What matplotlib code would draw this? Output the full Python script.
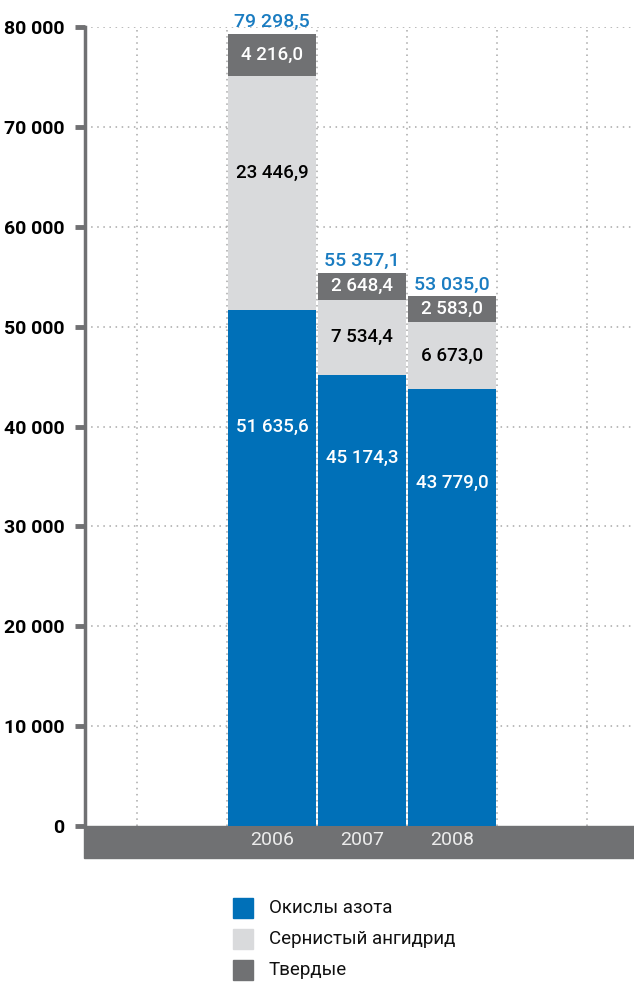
import matplotlib
matplotlib.use("Agg")
import matplotlib.pyplot as plt
from matplotlib.patches import Rectangle

plt.rcParams['font.family'] = ['Roboto', 'DejaVu Sans']

# data
years = ['2006', '2007', '2008']
nox = [51635.6, 45174.3, 43779.0]       # Окислы азота
so2 = [23446.9, 7534.4, 6673.0]         # Сернистый ангидрид
solids = [4216.0, 2648.4, 2583.0]       # Твердые
totals = [79298.5, 55357.1, 53035.0]
series_names = ['Окислы азота', 'Сернистый ангидрид', 'Твердые']
yticks = [0, 10000, 20000, 30000, 40000, 50000, 60000, 70000, 80000]

colors = ['#0070b8', '#d9dadc', '#707173']
label_colors = ['white', 'black', 'white']
total_color = '#1a7cc1'


def fmt(v, dec=1):
    s = f"{v:,.{dec}f}"
    return s.replace(',', ' ').replace('.', ',')


W, H = 634, 983
fig = plt.figure(figsize=(W / 100, H / 100), dpi=100)
ax = fig.add_axes([85 / W, (H - 826) / H, 549 / W, 799 / H])

xpos = [2, 3, 4]
bar_w = 0.97

# grid
for g in yticks[1:]:
    ax.axhline(g, color='#a8a8a8', lw=1.1, ls=(0, (1, 3)), zorder=0)
for gx in [0.5, 1.5, 2.5, 3.5, 4.5, 5.5]:
    ax.axvline(gx, color='#a8a8a8', lw=1.1, ls=(0, (1, 3)), zorder=0)

bottom = [0, 0, 0]
for vals, c in zip([nox, so2, solids], colors):
    ax.bar(xpos, vals, bar_w, bottom=bottom, color=c, zorder=2)
    bottom = [b + v for b, v in zip(bottom, vals)]

# segment labels
nox_label_y = [40000, 36900, 34400]
fs = 13.5
for i, x in enumerate(xpos):
    ax.text(x, nox_label_y[i], fmt(nox[i]), color=label_colors[0], ha='center',
            va='center', fontsize=fs, fontweight='medium', zorder=3)
    ax.text(x, nox[i] + so2[i] / 2 + (2000 if i == 0 else 0), fmt(so2[i]),
            color=label_colors[1], ha='center', va='center', fontsize=fs,
            fontweight='medium', zorder=3)
    ax.text(x, nox[i] + so2[i] + solids[i] / 2, fmt(solids[i]),
            color=label_colors[2], ha='center', va='center', fontsize=fs,
            fontweight='medium', zorder=3)
    ax.annotate(fmt(totals[i]), (x, totals[i]), xytext=(0, 2),
                textcoords='offset points', ha='center', va='bottom',
                color=total_color, fontsize=14, fontweight='medium', zorder=3,
                annotation_clip=False)

ax.set_xlim(0.5 - 52 / 90, 5.5 + 47 / 90)
ax.set_ylim(0, 80000)
ax.set_yticks(yticks)
ax.set_yticklabels([fmt(t, 0) for t in yticks], fontsize=14,
                   fontweight='semibold')
ax.set_xticks([])
ax.tick_params(axis='y', length=7, width=3.5, color='#707173', pad=8)
for s in ['top', 'right', 'bottom']:
    ax.spines[s].set_visible(False)
ax.spines['left'].set_color('#707173')
ax.spines['left'].set_linewidth(2.5)

# bottom band with years
band = Rectangle((-1 / 549, -32 / 799), 550 / 549, 32 / 799,
                 transform=ax.transAxes, color='#707173', zorder=1,
                 clip_on=False)
ax.add_patch(band)
for x, y in zip(xpos, years):
    ax.text(x, -1450, y, ha='center', va='center', color='#ececec',
            fontsize=14, clip_on=False, zorder=4)

# legend
for k, (name, c) in enumerate(zip(series_names, colors)):
    yc = 908 + k * 31
    fig.patches.append(Rectangle((233 / W, (H - yc - 10) / H), 20 / W, 20 / H,
                                 transform=fig.transFigure, color=c))
    fig.text(269 / W, (H - yc) / H, name, ha='left', va='center',
             fontsize=13.5, color='#111111')

fig.savefig('out.png', dpi=100)
